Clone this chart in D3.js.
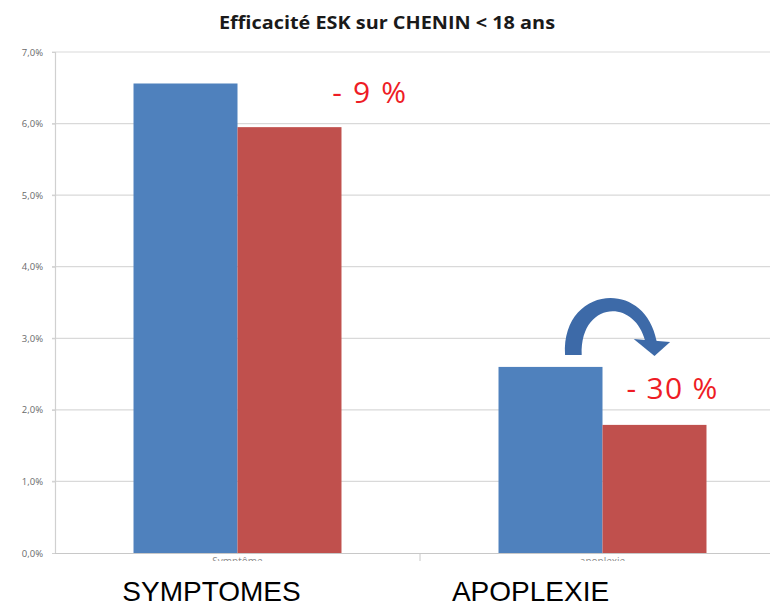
<!DOCTYPE html>
<html>
<head>
<meta charset="utf-8">
<script src="https://cdn.jsdelivr.net/npm/d3@7"></script>
<style>
  body { margin: 0; background: #fff; }
  svg { display: block; }
</style>
</head>
<body>
<svg width="770" height="606"></svg>
<script>
// data
const categories = ["Symptôme", "apoplexie"];
const bigLabels = ["SYMPTOMES", "APOPLEXIE"];
const seriesNames = ["avant", "après"];
const avant = [0.0656, 0.0260];
const apres = [0.0595, 0.0179];
const changes = ["- 9 %", "- 30 %"];
const yTicks = [0, 0.01, 0.02, 0.03, 0.04, 0.05, 0.06, 0.07];

const colors = ["#4f81bd", "#c0504d"];

const margin = {top: 52, left: 55, bottom: 53};
const W = 770, H = 606;
const plotH = H - margin.top - margin.bottom;

const svg = d3.select("svg");

// title
svg.append("text")
  .attr("x", 387).attr("y", 29)
  .attr("text-anchor", "middle")
  .attr("textLength", 336).attr("lengthAdjust", "spacingAndGlyphs")
  .style("font-family", "'Open Sans', Lato, sans-serif")
  .style("font-weight", "bold")
  .style("font-size", "17px")
  .attr("fill", "#1a1a1a")
  .text("Efficacité ESK sur CHENIN < 18 ans");

const x0 = d3.scaleBand().domain(categories).range([margin.left, margin.left + 730]).paddingInner(0).paddingOuter(0);
const x1 = d3.scaleBand().domain(seriesNames).range([0, x0.bandwidth()]).paddingInner(0).paddingOuter(0.755);
const y = d3.scaleLinear().domain([0, 0.07]).range([margin.top + plotH, margin.top]);

const fmt = d => d3.format(".1%")(d).replace(".", ",");

// grid
svg.append("g")
  .selectAll("line")
  .data(yTicks.slice(1))
  .join("line")
  .attr("x1", margin.left - 3).attr("x2", W)
  .attr("y1", d => y(d)).attr("y2", d => y(d))
  .attr("stroke", "#d9d9d9").attr("stroke-width", 1.2);

// y axis
const yAxis = svg.append("g")
  .attr("transform", `translate(${margin.left},0)`)
  .call(d3.axisLeft(y).tickValues(yTicks).tickFormat(fmt).tickSize(3).tickPadding(9));
yAxis.select(".domain").attr("stroke", "#d0d0d0").attr("stroke-width", 1.2);
yAxis.selectAll(".tick line").attr("stroke", "#d0d0d0");
yAxis.selectAll("text")
  .style("font-family", "'Open Sans', sans-serif")
  .style("font-size", "9.5px")
  .attr("fill", "#6a6a6a");

// bars
const groups = svg.append("g")
  .selectAll("g")
  .data(categories.map((c, i) => ({c, vals: [avant[i], apres[i]]})))
  .join("g")
  .attr("transform", d => `translate(${x0(d.c)},0)`);

groups.selectAll("rect")
  .data(d => d.vals.map((v, j) => ({s: seriesNames[j], v, j})))
  .join("rect")
  .attr("x", d => x1(d.s))
  .attr("width", x1.bandwidth())
  .attr("y", d => y(d.v))
  .attr("height", d => y(0) - y(d.v))
  .attr("fill", d => colors[d.j]);

// x axis line and tick
const yBase = y(0);
svg.append("line")
  .attr("x1", margin.left).attr("x2", W)
  .attr("y1", yBase + 0.5).attr("y2", yBase + 0.5)
  .attr("stroke", "#c8c8c8").attr("stroke-width", 1.2);
svg.append("line")
  .attr("x1", x0(categories[1])).attr("x2", x0(categories[1]))
  .attr("y1", yBase).attr("y2", yBase + 8)
  .attr("stroke", "#c8c8c8");

// small category labels, cut off under the big ones
svg.append("clipPath").attr("id", "cut")
  .append("rect").attr("x", 0).attr("y", yBase + 1).attr("width", W).attr("height", 7);
svg.append("g").attr("clip-path", "url(#cut)")
  .selectAll("text")
  .data(categories)
  .join("text")
  .attr("x", d => x0(d) + x0.bandwidth() / 2)
  .attr("y", yBase + 12)
  .attr("text-anchor", "middle")
  .style("font-family", "'Open Sans', sans-serif")
  .style("font-size", "10px")
  .attr("fill", "#8a8a8a")
  .text(d => d);

// big category labels
svg.append("g")
  .selectAll("text")
  .data(bigLabels)
  .join("text")
  .attr("x", (d, i) => x0(categories[i]) + x0.bandwidth() / 2 - [26, 72][i])
  .attr("y", 601)
  .attr("text-anchor", "middle")
  .style("font-family", "'Liberation Sans', Arial, sans-serif")
  .style("font-size", "28px")
  .attr("fill", "#000")
  .text(d => d);

// red change labels
svg.append("g")
  .selectAll("text")
  .data(changes)
  .join("text")
  .attr("x", (d, i) => x0(categories[i]) + x1("après") + x1.bandwidth() * [0.91, 0.23][i])
  .attr("y", (d, i) => y(avant[i]) + [20, 32][i])
  .attr("textLength", (d, i) => [74, 91][i]).attr("lengthAdjust", "spacing")
  .style("font-family", "'Open Sans', sans-serif")
  .style("font-size", "30px")
  .attr("fill", "#ee1c25")
  .text(d => d);

// curved arrow over the apoplexie bars
const ax = x0(categories[1]) + x1("avant");   // left edge of blue bar
const bw = x1.bandwidth();
const bt = y(avant[1]);                        // top of blue bar
const arrowColor = "#3d6aa8";
svg.append("path")
  .attr("d", `M${ax + bw * 0.64},${bt - 12}
              C${ax + bw * 0.6},${bt - 80} ${ax + bw * 1.4},${bt - 90} ${ax + bw * 1.52},${bt - 26}
              L${ax + bw * 1.41},${bt - 26}
              C${ax + bw * 1.3},${bt - 70} ${ax + bw * 0.78},${bt - 65} ${ax + bw * 0.8},${bt - 12} Z`)
  .attr("fill", arrowColor);
svg.append("path")
  .attr("d", `M${ax + bw * 1.3},${bt - 28} L${ax + bw * 1.65},${bt - 25} L${ax + bw * 1.5},${bt - 11} Z`)
  .attr("fill", arrowColor);
</script>
</body>
</html>
